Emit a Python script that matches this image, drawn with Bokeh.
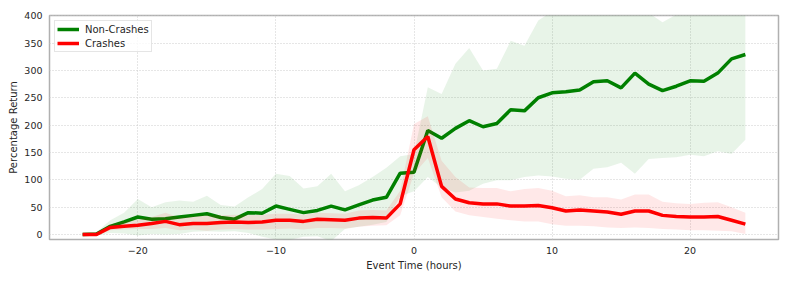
from bokeh.plotting import figure
from bokeh.models import Range1d, ColumnDataSource, Legend, LegendItem, FixedTicker
from bokeh.embed import file_html
from bokeh.resources import INLINE

hours = list(range(-24, 25))

green_mean = [0, 1, 15, 23, 32, 28, 29, 32, 35, 38, 31, 28, 40, 39, 52, 46, 40, 44, 52, 45,
              54, 63, 68, 112, 114, 190, 176, 194, 208, 197, 203, 228, 226, 250, 259, 261,
              264, 279, 281, 268, 295, 275, 263, 271, 281, 280, 295, 321, 329]
green_upper = [0, 4, 26, 40, 65, 50, 59, 62, 60, 71, 54, 51, 68, 83, 111, 107, 84, 88, 111, 79,
               90, 105, 122, 143, 147, 269, 257, 312, 341, 300, 303, 354, 345, 391, 408, 415,
               420, 425, 428, 418, 430, 405, 388, 402, 420, 425, 435, 450, 460]
green_lower = [0, -2, 3, 2, -2, 1, 0, 1, 5, 6, 5, 6, 3, -4, -9, -10, -4, -3, -12, 10,
               14, 18, 23, 70, 79, 105, 86, 77, 80, 93, 99, 99, 105, 108, 106, 102,
               100, 120, 123, 131, 111, 138, 140, 141, 146, 143, 152, 147, 173]

red_mean = [0, 0, 13, 15, 17, 20, 24, 18, 20, 20, 22, 23, 22, 23, 26, 26, 24, 28, 27, 26,
            30, 31, 30, 56, 155, 179, 88, 65, 58, 56, 56, 52, 52, 53, 49, 43,
            45, 43, 41, 37, 43, 43, 35, 33, 32, 32, 33, 26, 19]
red_upper = [1, 2, 19, 24, 28, 32, 40, 31, 33, 35, 35, 36, 35, 36, 38, 38, 36, 40, 39, 38,
             44, 45, 44, 80, 202, 216, 135, 105, 86, 85, 85, 79, 83, 85, 80, 70,
             72, 68, 68, 64, 73, 73, 60, 57, 56, 58, 59, 50, 40]
red_lower = [-1, -2, 8, 9, 10, 10, 12, 8, 9, 7, 9, 10, 9, 9, 10, 11, 9, 12, 12, 11,
             14, 16, 17, 35, 111, 140, 68, 42, 35, 32, 29, 26, 24, 24, 19, 16,
             16, 15, 13, 12, 13, 12, 10, 9, 8, 8, 7, 6, 1]

x_ticks = [-20, -10, 0, 10, 20]
y_ticks = [0, 50, 100, 150, 200, 250, 300, 350, 400]

src = ColumnDataSource(dict(h=hours, gm=green_mean, gu=green_upper, gl=green_lower,
                            rm=red_mean, ru=red_upper, rl=red_lower))

FONT = "DejaVu Sans"
TXT = "#262626"

p = figure(width=781, height=274, output_backend="svg", toolbar_location=None,
           x_range=Range1d(-26.4, 26.4), y_range=Range1d(-9.1, 400.3),
           min_border_left=49, min_border_right=3, min_border_top=15, min_border_bottom=35)
p.background_fill_color = "white"
p.border_fill_color = "white"
p.outline_line_color = "#b0b0b0"
p.outline_line_width = 1.5

p.varea(x="h", y1="gl", y2="gu", source=src, fill_color="green", fill_alpha=0.09)
g_line = p.line(x="h", y="gm", source=src, line_color="green", line_width=3.5)
p.varea(x="h", y1="rl", y2="ru", source=src, fill_color="red", fill_alpha=0.09)
r_line = p.line(x="h", y="rm", source=src, line_color="red", line_width=3.5)

p.xaxis.ticker = FixedTicker(ticks=x_ticks)
p.xaxis.major_label_overrides = {t: (("\u2212" + str(-t)) if t < 0 else str(t)) for t in x_ticks}
p.yaxis.ticker = FixedTicker(ticks=y_ticks)
p.xaxis.axis_label = "Event Time (hours)"
p.yaxis.axis_label = "Percentage Return"

for ax in (p.xaxis, p.yaxis):
    ax.axis_line_color = None
    ax.major_tick_line_color = None
    ax.minor_tick_line_color = None
    ax.major_tick_out = 0
    ax.major_tick_in = 0
    ax.major_label_text_font = FONT
    ax.major_label_text_font_size = "9.5px"
    ax.major_label_text_color = TXT
    ax.axis_label_text_font = FONT
    ax.axis_label_text_font_size = "10px"
    ax.axis_label_text_font_style = "normal"
    ax.axis_label_text_color = TXT
    ax.major_label_standoff = 7
p.xaxis.axis_label_standoff = 3
p.yaxis.axis_label_standoff = 2

p.grid.grid_line_color = "#cccccc"
p.grid.grid_line_dash = "1 2"
p.grid.grid_line_width = 1

legend = Legend(items=[LegendItem(label="Non-Crashes", renderers=[g_line]),
                       LegendItem(label="Crashes", renderers=[r_line])],
                location="top_left")
legend.label_text_font = FONT
legend.label_text_font_size = "10px"
legend.label_text_color = TXT
legend.glyph_width = 22
legend.glyph_height = 12
legend.label_height = 12
legend.label_standoff = 6
legend.padding = 2
legend.spacing = 2
legend.margin = 5
legend.border_line_color = "#cccccc"
legend.border_line_width = 1
legend.background_fill_alpha = 0.8
p.add_layout(legend)

open("out.html", "w").write(file_html(p, INLINE))
